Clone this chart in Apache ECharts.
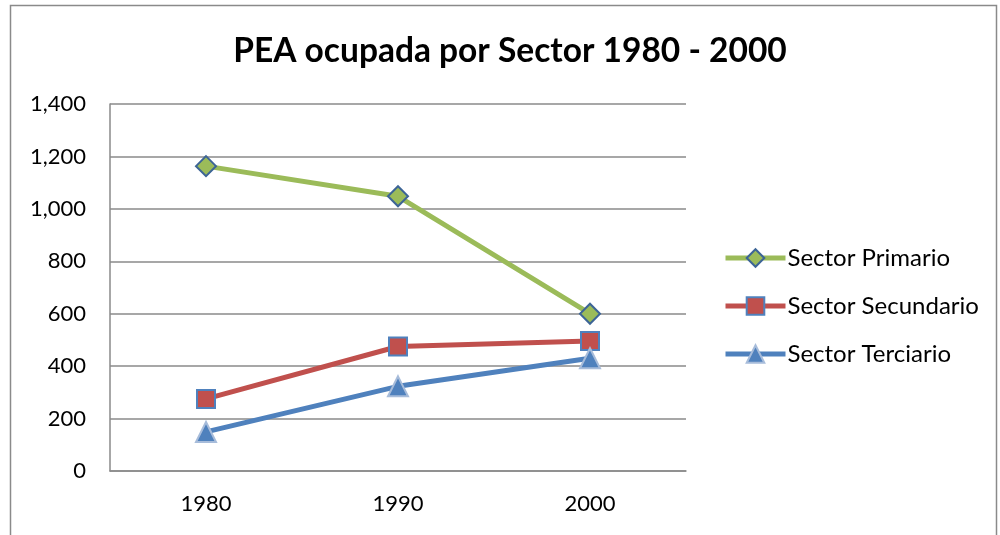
<!DOCTYPE html>
<html><head><meta charset="utf-8">
<script src="https://cdn.jsdelivr.net/npm/echarts@6/dist/echarts.min.js"></script>
<style>html,body{margin:0;padding:0;background:#fff}#c{width:1000px;height:535px}</style>
</head><body><div id="c"></div>
<script>
const categories = ['1980', '1990', '2000'];
const primario = [1163, 1048, 600];
const secundario = [275, 475, 496];
const terciario = [149, 323, 430];
const yTicks = [0, 200, 400, 600, 800, 1000, 1200, 1400];

const FONT = 'Lato';
const chart = echarts.init(document.getElementById('c'));
chart.setOption({
  animation: false,
  backgroundColor: '#fff',
  graphic: [{
    type: 'rect', shape: {x: 10.5, y: 5.5, width: 986, height: 540},
    style: {fill: 'none', stroke: '#8a8a8a', lineWidth: 1.5}, silent: true
  }],
  title: {
    text: 'PEA ocupada por Sector 1980 - 2000', left: 505, top: 29, textAlign: 'center',
    textStyle: {fontFamily: FONT, fontWeight: 'bold', fontSize: 33.5, color: '#000'}
  },
  grid: {left: 110, right: 314, top: 104, bottom: 64},
  xAxis: {
    type: 'category', data: categories, boundaryGap: true,
    axisLine: {lineStyle: {color: '#8a8a8a', width: 1.5}},
    axisTick: {show: false},
    axisLabel: {fontFamily: FONT, fontSize: 22, color: '#000', margin: 22}
  },
  yAxis: {
    type: 'value', min: 0, max: 1400, interval: 200,
    axisLine: {show: true, lineStyle: {color: '#8a8a8a', width: 1.5}},
    axisTick: {show: false},
    splitLine: {lineStyle: {color: '#8a8a8a', width: 1.5}},
    axisLabel: {fontFamily: FONT, fontSize: 22, color: '#000', margin: 24,
      formatter: v => yTicks.includes(v) ? v.toLocaleString('en-US') : ''}
  },
  legend: {
    orient: 'vertical', left: 718, top: 241, itemGap: 24, itemWidth: 60, itemHeight: 22,
    lineStyle: {width: 5},
    textStyle: {fontFamily: FONT, fontSize: 24, color: '#000', padding: [0, 0, 0, -3]},
    data: ['Sector Primario', 'Sector Secundario', 'Sector Terciario']
  },
  series: [
    {name: 'Sector Primario', type: 'line', data: primario, symbol: 'diamond', symbolSize: 20,
      lineStyle: {color: '#9BBB59', width: 5}, itemStyle: {color: '#9BBB59', borderColor: '#3C6496', borderWidth: 2}},
    {name: 'Sector Secundario', type: 'line', data: secundario, symbol: 'rect', symbolSize: 18,
      lineStyle: {color: '#C0504D', width: 5}, itemStyle: {color: '#C0504D', borderColor: '#4F81BD', borderWidth: 2}},
    {name: 'Sector Terciario', type: 'line', data: terciario, symbol: 'triangle', symbolSize: 20,
      lineStyle: {color: '#4F81BD', width: 5}, itemStyle: {color: '#4F81BD', borderColor: '#A7BCDA', borderWidth: 2}}
  ]
});
</script></body></html>
